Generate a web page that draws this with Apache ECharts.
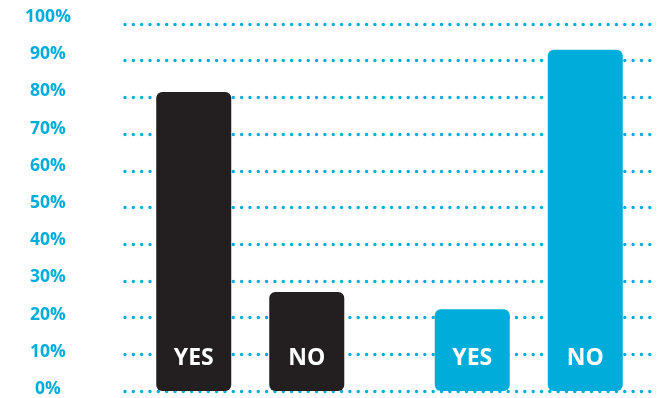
<!DOCTYPE html>
<html>
<head>
<meta charset="utf-8">
<script src="https://cdn.jsdelivr.net/npm/echarts@6/dist/echarts.min.js"></script>
<style>html,body{margin:0;padding:0;background:#fff}#c{width:668px;height:398px}</style>
</head>
<body>
<div id="c"></div>
<script>
const categories = ['Group 1', 'Group 2'];
const yesValues = [81.5, 22.3];
const noValues = [27, 93];
const seriesNames = ['YES', 'NO'];
const groupColors = ['#231F20', '#00ADDA'];
const tickLabels = ['0%', '10%', '20%', '30%', '40%', '50%', '60%', '70%', '80%', '90%', '100%'];

const cyan = '#00ADDA';
const chart = echarts.init(document.getElementById('c'));

function mk(vals) {
  return vals.map((v, i) => ({ value: v, itemStyle: { color: groupColors[i] } }));
}

chart.setOption({
  animation: false,
  grid: [
    { left: 125, right: 12, top: 17, bottom: 9 },
    { left: 125, right: 12, top: 24, bottom: 7 },
    { left: 111, right: 0, top: 24, bottom: 2 }
  ],
  xAxis: [
    { gridIndex: 0, type: 'value', show: false },
    { gridIndex: 1, type: 'value', show: false },
    { gridIndex: 2, type: 'category', data: categories, show: false, axisLine: { onZero: false } }
  ],
  yAxis: [
    {
      gridIndex: 0, type: 'category', data: tickLabels, boundaryGap: false,
      axisLine: { show: false }, axisTick: { show: false }, splitLine: { show: false },
      axisLabel: { color: cyan, fontFamily: 'Open Sans', fontWeight: 'bold', fontSize: 17.5, align: 'center', margin: 77 }
    },
    {
      gridIndex: 1, type: 'value', min: 0, max: 100, interval: 10,
      axisLine: { show: false }, axisTick: { show: false }, axisLabel: { show: false },
      splitLine: { show: true, lineStyle: { color: cyan, width: 3.4, type: [0, 8.33], cap: 'round' } }
    },
    {
      gridIndex: 2, type: 'value', min: -1.36, max: 100, show: false,
      splitLine: { show: false }
    }
  ],
  series: seriesNames.map((name, k) => ({
    name: name,
    type: 'bar',
    xAxisIndex: 2,
    yAxisIndex: 2,
    barWidth: 75,
    barGap: '50.7%',
    data: mk(k === 0 ? yesValues : noValues),
    itemStyle: { borderRadius: 6 },
    label: {
      show: true, position: 'insideBottom', distance: 21,
      formatter: name, color: '#fff', fontFamily: 'Open Sans', fontWeight: 'bold', fontSize: 23
    }
  }))
});
</script>
</body>
</html>
